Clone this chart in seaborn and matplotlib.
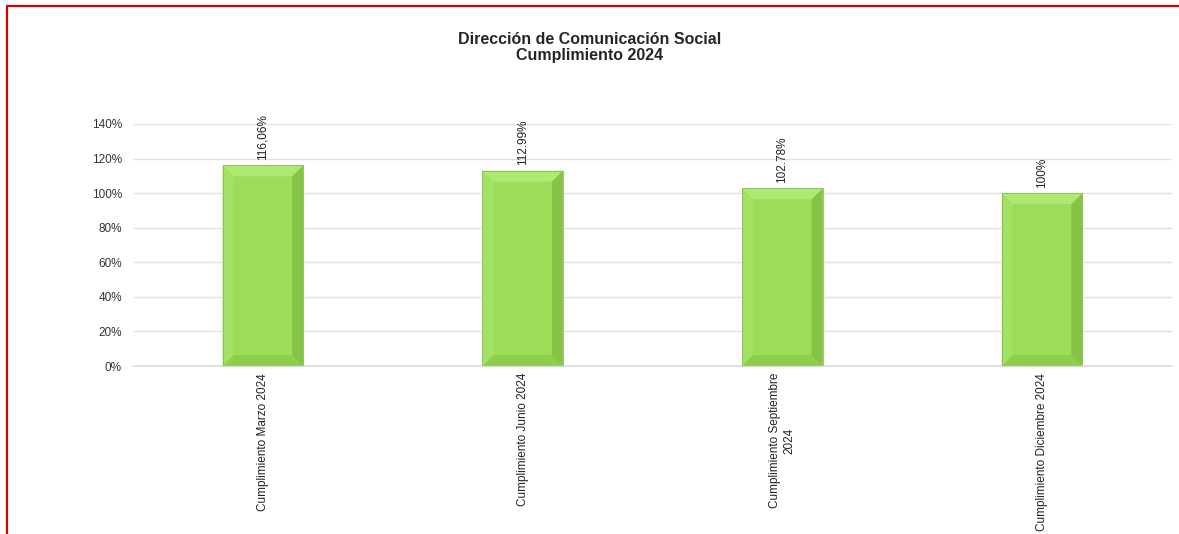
import numpy as np
import pandas as pd
import matplotlib
matplotlib.use("Agg")
import matplotlib.pyplot as plt
from matplotlib.patches import Polygon
from matplotlib.lines import Line2D
import seaborn as sns

# data
categorias = ["Cumplimiento Marzo 2024", "Cumplimiento Junio 2024",
              "Cumplimiento Septiembre\n2024", "Cumplimiento Diciembre 2024"]
cumplimiento = [1.1606, 1.1299, 1.0278, 1.00]
etiquetas = ["116,06%", "112.99%", "102.78%", "100%"]
yticks = [0, 0.2, 0.4, 0.6, 0.8, 1.0, 1.2, 1.4]

df = pd.DataFrame({"categoria": categorias, "valor": cumplimiento})

sns.set_style("white")
plt.rcParams["font.family"] = ["Liberation Sans", "DejaVu Sans"]

fig = plt.figure(figsize=(11.79, 5.34), dpi=100)
ax = fig.add_axes([0.1128, 0.3146, 0.8812, 0.4532])

face = "#9bdc58"
sns.barplot(data=df, x="categoria", y="valor", color=face, width=0.31,
            saturation=1, ax=ax, zorder=3)

ax.set_ylim(0, 1.4)
ax.set_xlim(-0.5, 3.5)
ax.set_yticks(yticks)
ax.set_yticklabels([f"{int(round(t * 100))}%" for t in yticks], fontsize=8.5, color="#333333")
ax.yaxis.grid(True, color="#e2e2e2", linewidth=1.0, zorder=0)
ax.axhline(0, color="#dadada", linewidth=1.2, clip_on=False, zorder=1)
ax.set_axisbelow(True)
for s in ax.spines.values():
    s.set_visible(False)
ax.tick_params(axis="both", length=0, pad=8)
ax.set_xlabel("")
ax.set_ylabel("")
ax.set_xticks(range(len(categorias)))
ax.set_xticklabels(categorias, rotation=90, fontsize=8.5, color="#222222",
                   va="top", ha="center", multialignment="center")
ax.tick_params(axis="x", pad=5)

# bevel effect on the bars, built from the bar patches
fig.canvas.draw()
inv = ax.transData.inverted()
d = 11  # bevel depth in px
for p in ax.patches:
    x0, y0 = p.get_x(), p.get_y()
    x1, y1 = x0 + p.get_width(), y0 + p.get_height()
    (px0, py0) = ax.transData.transform((x0, y0))
    (px1, py1) = ax.transData.transform((x1, y1))
    outer = [(px0, py0), (px1, py0), (px1, py1), (px0, py1)]
    inner = [(px0 + d, py0 + d), (px1 - d, py0 + d), (px1 - d, py1 - d), (px0 + d, py1 - d)]
    sides = {
        "bottom": ([outer[0], outer[1], inner[1], inner[0]], "#8fcd4e"),
        "right": ([outer[1], outer[2], inner[2], inner[1]], "#86c246"),
        "top": ([outer[2], outer[3], inner[3], inner[2]], "#aeea72"),
        "left": ([outer[3], outer[0], inner[0], inner[3]], "#a2e164"),
    }
    for pts, col in sides.values():
        ax.add_patch(Polygon(inv.transform(pts), closed=True, facecolor=col,
                             edgecolor="none", zorder=4))
    ax.add_patch(Polygon(inv.transform(outer), closed=True, facecolor="none",
                         edgecolor="#86bd4c", linewidth=0.6, zorder=5))

for i, (v, lab) in enumerate(zip(cumplimiento, etiquetas)):
    ax.annotate(lab, (i, v), xytext=(0, 4), textcoords="offset points",
                rotation=90, ha="center", va="bottom", fontsize=8.5,
                color="#222222", annotation_clip=False)

fig.text(0.5, 0.911, "Dirección de Comunicación Social\nCumplimiento 2024",
         ha="center", va="center", fontsize=11.5, fontweight="bold", linespacing=1.1)

# red frame on the top and left edge
fig.add_artist(Line2D([7 / 1179, 1], [1 - 6 / 534, 1 - 6 / 534], color="#d40000",
                      linewidth=1.6, transform=fig.transFigure))
fig.add_artist(Line2D([7 / 1179, 7 / 1179], [0, 1 - 6 / 534], color="#d40000",
                      linewidth=1.6, transform=fig.transFigure))

fig.savefig("out.png", dpi=100)
